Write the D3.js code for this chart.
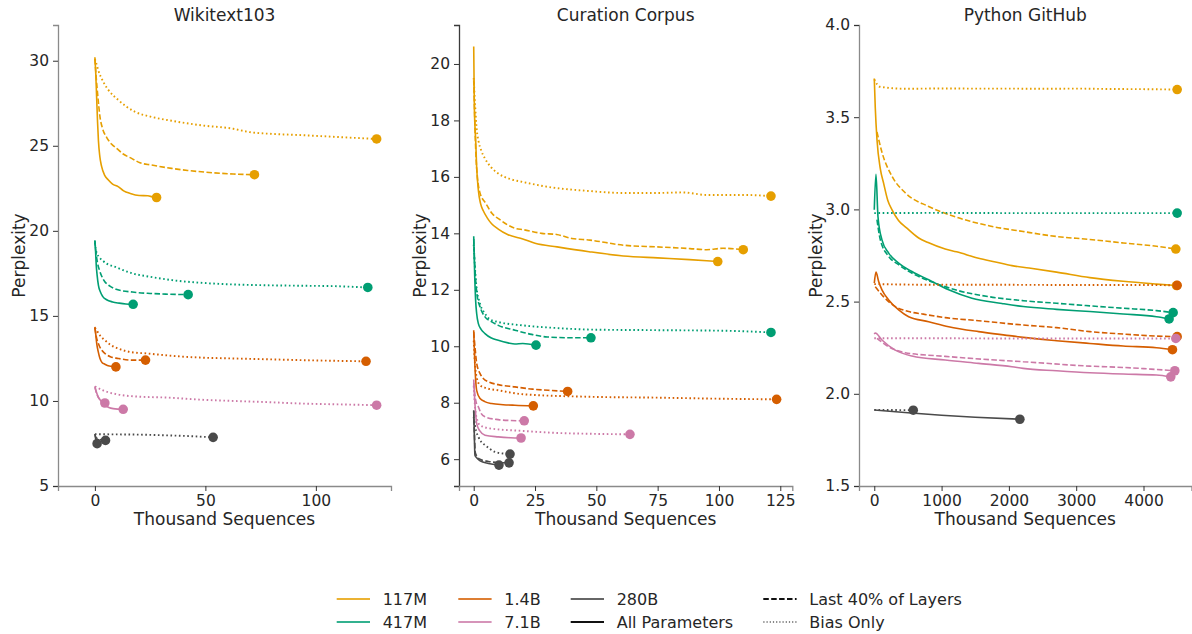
<!DOCTYPE html>
<html><head><meta charset="utf-8">
<script src="https://cdn.jsdelivr.net/npm/d3@7"></script>
<style>
html,body{margin:0;padding:0;background:#fff;}
svg{font-family:"DejaVu Sans",sans-serif;}
</style></head>
<body>
<svg id="chart" width="1192" height="634"></svg>
<script>
// ---------------- DATA ----------------
const models = ["117M","417M","1.4B","7.1B","280B"];
const methods = ["Last 40% of Layers","All Parameters","Bias Only"];
const titles = ["Wikitext103","Curation Corpus","Python GitHub"];
const wikiYTicks = [5,10,15,20,25,30];
const wikiXTicks = [0,50,100];
const curYTicks = [6,8,10,12,14,16,18,20];
const curXTicks = [0,25,50,75,100,125];
const pyYTicks = [1.5,2.0,2.5,3.0,3.5,4.0];
const pyXTicks = [0,1000,2000,3000,4000];

// Wikitext103 ([thousand sequences, perplexity])
const wiki117M_all   = [[0,30.2],[0.4,29.2],[0.8,27.8],[1.2,26.4],[1.6,25.3],[2.2,24.4],[3,23.8],[4.5,23.25],[6,23.0],[8,22.75],[10.5,22.6],[13,22.35],[16,22.2],[20,22.08],[24,22.06],[26,22.0],[27.9,21.96]];
const wiki117M_last  = [[0,30.1],[0.6,29.0],[1.2,28.1],[2.3,26.7],[3.5,26.0],[5.3,25.5],[7.5,25.1],[9.8,24.85],[13,24.5],[16.6,24.26],[20.4,24.0],[25.6,23.87],[34.7,23.67],[42,23.55],[49.8,23.45],[62.6,23.34],[72.2,23.3]];
const wiki117M_bias  = [[0,30.1],[0.5,29.9],[1.5,29.45],[3.8,28.76],[6,28.3],[10.5,27.7],[18.1,27.0],[25.6,26.7],[34.7,26.47],[48.3,26.2],[62.6,26.0],[70.1,25.8],[80,25.7],[92.8,25.63],[107.8,25.53],[127.5,25.4]];
const wiki417M_all   = [[0,19.45],[0.3,18.8],[0.6,18.0],[1,17.4],[1.6,16.8],[2.5,16.4],[3.5,16.15],[5.3,15.95],[8,15.82],[11,15.75],[14,15.7],[17.3,15.68]];
const wiki417M_last  = [[0,19.4],[0.5,18.7],[1.2,18.1],[2.3,17.6],[4,17.1],[6.8,16.75],[10,16.55],[17,16.4],[25,16.32],[32,16.28],[42.2,16.25]];
const wiki417M_bias  = [[0,19.3],[0.8,18.7],[4,18.2],[9.8,17.85],[17,17.5],[24.9,17.3],[35,17.1],[47.5,16.95],[62,16.85],[77.5,16.8],[95,16.77],[107.8,16.75],[123.5,16.67]];
const wiki1_4B_all   = [[0,14.35],[0.4,13.9],[0.8,13.4],[1.5,12.9],[2.3,12.5],[3.3,12.25],[4.5,12.16],[6.5,12.05],[9.5,12.0]];
const wiki1_4B_last  = [[0,14.3],[0.6,13.8],[1.5,13.4],[3,13.0],[4.5,12.8],[7,12.6],[10.5,12.5],[16.6,12.4],[22.9,12.4]];
const wiki1_4B_bias  = [[0,14.3],[0.8,14.15],[2.3,13.85],[4.5,13.57],[7,13.3],[10.5,13.08],[17.4,12.85],[22.6,12.8],[35,12.65],[47.5,12.55],[62,12.5],[77.7,12.45],[100,12.38],[122.7,12.33]];
const wiki7_1B_all   = [[0,10.86],[0.6,10.55],[1.5,10.24],[3,9.95],[4.5,9.75],[6.3,9.62],[8.3,9.55],[10.5,9.52],[12.8,9.51]];
const wiki7_1B_last  = [[0,10.8],[1,10.35],[2.5,10.05],[4.5,9.88]];
const wiki7_1B_bias  = [[0,10.85],[0.8,10.8],[4,10.6],[10.5,10.38],[20,10.25],[32.4,10.2],[47,10.08],[62.6,10.0],[80,9.92],[92.8,9.85],[110,9.8],[127.5,9.75]];
const wiki280B_all   = [[0,8.05],[0.3,7.8],[1,7.49]];
const wiki280B_last  = [[0,8.05],[0.5,7.85],[2,7.74],[4.8,7.68]];
const wiki280B_bias  = [[0,8.05],[5,8.04],[20,8.02],[32,7.98],[45,7.92],[53.5,7.86]];

// Curation Corpus
const cur117M_all  = [[0,20.62],[0.25,18.5],[0.5,17.8],[0.8,17.3],[1.2,16.35],[1.9,15.52],[2.8,15.05],[3.9,14.8],[5.5,14.55],[7.3,14.34],[10,14.15],[14,13.95],[20,13.8],[25,13.65],[34,13.52],[47,13.35],[61,13.2],[75,13.13],[88,13.07],[95,13.03],[99.5,13.0]];
const cur117M_last = [[0,19.42],[0.3,18.5],[0.6,17.5],[1,16.6],[1.5,16.0],[2.5,15.45],[5,15.05],[7.5,14.7],[10.4,14.5],[16.8,14.18],[20.2,14.13],[27.7,14.0],[33.8,13.96],[40,13.82],[47.4,13.76],[61,13.58],[74.6,13.52],[88.2,13.46],[95,13.42],[101.7,13.47],[109.9,13.42]];
const cur117M_bias = [[0,19.5],[0.6,18.5],[1.2,17.7],[2,17.25],[3,16.95],[4.6,16.65],[7,16.35],[10,16.12],[15,15.92],[20,15.82],[30,15.65],[47,15.5],[61,15.43],[75,15.43],[85,15.45],[95,15.36],[110,15.36],[121.2,15.32]];
const cur417M_all  = [[0,13.9],[0.4,12.5],[0.8,11.6],[1.2,11.16],[1.9,10.8],[3,10.6],[4.6,10.45],[7,10.3],[10,10.21],[14,10.12],[16.8,10.08],[20,10.1],[25.4,10.04]];
const cur417M_last = [[0,13.8],[0.6,12.6],[1.4,11.8],[2.6,11.39],[4.6,11.04],[7,10.88],[10,10.74],[16.8,10.57],[23.6,10.42],[30,10.33],[41,10.3],[47.8,10.3]];
const cur417M_bias = [[0,13.6],[1,12.2],[2.6,11.5],[4.6,11.16],[6.6,10.95],[10,10.86],[20,10.74],[35,10.64],[47.4,10.59],[74.6,10.57],[101.7,10.55],[121.2,10.49]];
const cur1_4B_all  = [[0,10.57],[0.4,9.5],[0.8,8.8],[1.2,8.44],[2.6,8.15],[4.5,8.04],[7.3,7.97],[12,7.93],[16.8,7.91],[24.3,7.89]];
const cur1_4B_last = [[0,10.5],[0.6,9.9],[1.2,9.4],[2.6,9.03],[4,8.85],[6,8.74],[10,8.64],[16.8,8.56],[24,8.48],[30.4,8.44],[38.3,8.4]];
const cur1_4B_bias = [[0,10.2],[0.5,9.4],[1.2,8.9],[2.6,8.62],[5,8.52],[10,8.44],[20.2,8.3],[47.4,8.21],[74.6,8.18],[101.7,8.14],[123.5,8.12]];
const cur7_1B_all  = [[0,8.82],[0.4,8.1],[0.8,7.6],[1.2,7.26],[2.5,7.0],[4.6,6.85],[10,6.79],[15,6.76],[19.3,6.75]];
const cur7_1B_last = [[0,8.7],[0.6,8.2],[1.2,7.95],[1.9,7.85],[3,7.62],[4.6,7.5],[10,7.4],[15,7.37],[20.6,7.36]];
const cur7_1B_bias = [[0,8.6],[0.6,7.8],[1.4,7.4],[2.6,7.2],[6.6,7.09],[20.2,7.0],[33.8,6.93],[47.4,6.9],[63.7,6.88]];
const cur280B_all  = [[0,7.73],[0.2,7.0],[0.5,6.14],[1.2,6.05],[2.6,5.94],[6,5.85],[10.3,5.79]];
const cur280B_last = [[0,7.7],[0.3,6.9],[0.6,6.25],[1.5,6.08],[3,5.98],[6,5.92],[10,5.88],[14.4,5.87]];
const cur280B_bias = [[0,7.5],[0.5,7.2],[1,7.0],[1.9,6.79],[3,6.62],[4.6,6.5],[8.6,6.26],[12,6.2],[14.8,6.18]];

// Python GitHub
const py117M_all  = [[0,3.71],[15,3.55],[40,3.38],[90,3.22],[140,3.14],[200,3.05],[260,3.0],[360,2.94],[480,2.9],[660,2.845],[800,2.82],[1054,2.785],[1223,2.77],[1550,2.735],[1800,2.715],[2045,2.695],[2300,2.682],[2708,2.66],[3203,2.63],[3697,2.61],[4193,2.595],[4490,2.587]];
const py117M_last = [[40,3.42],[114,3.31],[263,3.18],[460,3.09],[808,3.016],[1203,2.96],[1718,2.91],[2212,2.88],[2708,2.853],[3203,2.837],[3697,2.818],[4193,2.8],[4480,2.785]];
const py117M_bias = [[0,3.705],[85,3.665],[480,3.654],[1000,3.656],[1500,3.655],[2000,3.655],[2500,3.654],[3000,3.655],[3500,3.653],[4000,3.652],[4500,3.65]];
const py417M_all  = [[0,2.998],[25,3.19],[55,2.96],[114,2.835],[214,2.763],[362,2.709],[560,2.663],[808,2.618],[1105,2.564],[1451,2.518],[1896,2.49],[2212,2.473],[2708,2.458],[3203,2.446],[3697,2.433],[4193,2.418],[4380,2.406]];
const py417M_last = [[40,2.944],[90,2.835],[214,2.745],[362,2.7],[609,2.645],[906,2.6],[1203,2.564],[1698,2.527],[2212,2.505],[2708,2.491],[3203,2.477],[3697,2.464],[4193,2.451],[4440,2.44]];
const py417M_bias = [[0,2.98],[1000,2.981],[2000,2.98],[3000,2.98],[4000,2.98],[4500,2.98]];
const py1_4B_all  = [[0,2.6],[25,2.66],[65,2.609],[114,2.564],[214,2.509],[362,2.455],[511,2.418],[808,2.391],[1105,2.364],[1550,2.337],[2045,2.314],[2212,2.306],[2708,2.288],[3203,2.273],[3697,2.259],[4193,2.25],[4430,2.239]];
const py1_4B_last = [[15,2.58],[114,2.536],[312,2.473],[511,2.446],[728,2.432],[1054,2.413],[1500,2.398],[2212,2.373],[2708,2.359],[3203,2.337],[3697,2.324],[4193,2.313],[4500,2.31]];
const py1_4B_bias = [[0,2.595],[1000,2.591],[2000,2.591],[3000,2.59],[4000,2.59],[4500,2.588]];
const py7_1B_all  = [[0,2.324],[15,2.33],[114,2.292],[312,2.237],[560,2.205],[1054,2.183],[1550,2.165],[2045,2.147],[2212,2.138],[2708,2.125],[3203,2.114],[3697,2.107],[4193,2.102],[4405,2.092]];
const py7_1B_last = [[40,2.301],[214,2.255],[460,2.223],[1054,2.203],[1797,2.183],[2212,2.174],[3203,2.15],[3697,2.143],[4193,2.132],[4465,2.125]];
const py7_1B_bias = [[0,2.301],[1000,2.301],[2000,2.3],[3000,2.3],[4000,2.3],[4480,2.3]];
const py280B_all  = [[0,1.912],[500,1.897],[1000,1.884],[1500,1.873],[2163,1.862]];
const py280B_bias = [[0,1.913],[300,1.912],[579,1.911]];

// ---------------- STYLE ----------------
const colors = {"117M":"#E69F00","417M":"#009E73","1.4B":"#D55E00","7.1B":"#CC79A7","280B":"#4a4a4a"};
const dashes = {"Last 40% of Layers":"5.5,2.4","All Parameters":null,"Bias Only":"1.6,2.6"};
const widths = {"Last 40% of Layers":1.6,"All Parameters":1.6,"Bias Only":1.9};

const panelSeries = [
  [["117M","All Parameters",wiki117M_all],["117M","Last 40% of Layers",wiki117M_last],["117M","Bias Only",wiki117M_bias],
   ["417M","All Parameters",wiki417M_all],["417M","Last 40% of Layers",wiki417M_last],["417M","Bias Only",wiki417M_bias],
   ["1.4B","All Parameters",wiki1_4B_all],["1.4B","Last 40% of Layers",wiki1_4B_last],["1.4B","Bias Only",wiki1_4B_bias],
   ["7.1B","All Parameters",wiki7_1B_all],["7.1B","Last 40% of Layers",wiki7_1B_last],["7.1B","Bias Only",wiki7_1B_bias],
   ["280B","All Parameters",wiki280B_all],["280B","Last 40% of Layers",wiki280B_last],["280B","Bias Only",wiki280B_bias]],
  [["117M","All Parameters",cur117M_all],["117M","Last 40% of Layers",cur117M_last],["117M","Bias Only",cur117M_bias],
   ["417M","All Parameters",cur417M_all],["417M","Last 40% of Layers",cur417M_last],["417M","Bias Only",cur417M_bias],
   ["1.4B","All Parameters",cur1_4B_all],["1.4B","Last 40% of Layers",cur1_4B_last],["1.4B","Bias Only",cur1_4B_bias],
   ["7.1B","All Parameters",cur7_1B_all],["7.1B","Last 40% of Layers",cur7_1B_last],["7.1B","Bias Only",cur7_1B_bias],
   ["280B","All Parameters",cur280B_all],["280B","Last 40% of Layers",cur280B_last],["280B","Bias Only",cur280B_bias]],
  [["117M","All Parameters",py117M_all],["117M","Last 40% of Layers",py117M_last],["117M","Bias Only",py117M_bias],
   ["417M","All Parameters",py417M_all],["417M","Last 40% of Layers",py417M_last],["417M","Bias Only",py417M_bias],
   ["1.4B","All Parameters",py1_4B_all],["1.4B","Last 40% of Layers",py1_4B_last],["1.4B","Bias Only",py1_4B_bias],
   ["7.1B","All Parameters",py7_1B_all],["7.1B","Last 40% of Layers",py7_1B_last],["7.1B","Bias Only",py7_1B_bias],
   ["280B","All Parameters",py280B_all],["280B","Bias Only",py280B_bias]]
];

const layout = [
  {x0:58,  x1:391,   xDom:[-16.7,134], yDom:[5,32.1],    xTicks:wikiXTicks, yTicks:wikiYTicks, yFmt:d3.format("d"),   labX:19,  spine:"#8a8a8a"},
  {x0:459, x1:792.3, xDom:[-6,129.9],  yDom:[5.05,21.38],xTicks:curXTicks,  yTicks:curYTicks,  yFmt:d3.format("d"),   labX:420, spine:"#3a3a3a"},
  {x0:859, x1:1191.5,xDom:[-227,4713], yDom:[1.5,4.0],   xTicks:pyXTicks,   yTicks:pyYTicks,   yFmt:d3.format(".1f"), labX:816, spine:"#8a8a8a"}
];
const yTop = 25, yBot = 486;
const textCol = "#262626";

const svg = d3.select("#chart");

layout.forEach((L, i) => {
  const x = d3.scaleLinear().domain(L.xDom).range([L.x0, L.x1]);
  const y = d3.scaleLinear().domain(L.yDom).range([yBot, yTop]);
  const g = svg.append("g");

  const yAx = g.append("g").attr("transform", `translate(${L.x0},0)`)
    .call(d3.axisLeft(y).tickValues(L.yTicks).tickFormat(L.yFmt).tickSizeOuter(0).tickSize(5).tickPadding(4));
  const xAx = g.append("g").attr("transform", `translate(0,${yBot})`)
    .call(d3.axisBottom(x).tickValues(L.xTicks).tickFormat(d3.format("d")).tickSizeOuter(0).tickSize(5).tickPadding(4));
  [yAx, xAx].forEach(a => {
    a.select(".domain").attr("stroke", "#8a8a8a").attr("stroke-width", 1.3);
    a.selectAll(".tick line").attr("stroke", "#333").attr("stroke-width", 1);
    a.selectAll(".tick text").attr("fill", textCol).attr("font-size", 15.5).attr("font-family", "DejaVu Sans");
  });
  yAx.select(".domain").attr("stroke", L.spine);

  g.append("text").attr("x", (L.x0 + L.x1) / 2).attr("y", 21).attr("text-anchor", "middle")
    .attr("font-size", 17).attr("fill", textCol).text(titles[i]);
  g.append("text").attr("x", (L.x0 + L.x1) / 2).attr("y", 525).attr("text-anchor", "middle")
    .attr("font-size", 17).attr("fill", textCol).text("Thousand Sequences");
  g.append("text").attr("transform", `translate(${L.labX + 6},${(yTop + yBot) / 2}) rotate(-90)`)
    .attr("text-anchor", "middle").attr("font-size", 17).attr("fill", textCol).text("Perplexity");

  const line = d3.line().x(d => x(d[0])).y(d => y(d[1])).curve(d3.curveMonotoneX);
  const series = panelSeries[i];
  series.forEach(([m, meth, data]) => {
    g.append("path").datum(data).attr("d", line)
      .attr("fill", "none").attr("stroke", colors[m]).attr("stroke-width", widths[meth])
      .attr("stroke-dasharray", dashes[meth]);
  });
  series.forEach(([m, meth, data]) => {
    const last = data[data.length - 1];
    g.append("circle").attr("cx", x(last[0])).attr("cy", y(last[1])).attr("r", 4.8)
      .attr("fill", colors[m]);
  });
});

// ---------------- LEGEND ----------------
const leg = svg.append("g");
const legModelCols = [[336.7, 599, "117M"], [336.7, 622, "417M"], [458.3, 599, "1.4B"], [458.3, 622, "7.1B"], [570.7, 599, "280B"]];
legModelCols.forEach(([lx, ly, m]) => {
  leg.append("line").attr("x1", lx).attr("x2", lx + 33.3).attr("y1", ly).attr("y2", ly)
    .attr("stroke", m === "280B" ? "#666" : colors[m]).attr("stroke-width", 2).attr("stroke-opacity", m === "280B" ? 1 : 0.8);
  leg.append("text").attr("x", lx + 46).attr("y", ly).attr("dy", "0.36em").attr("font-size", 16)
    .attr("fill", textCol).text(m);
});
const legMethods = [[570.7, 622, "All Parameters"], [763.3, 599, "Last 40% of Layers"], [763.3, 622, "Bias Only"]];
legMethods.forEach(([lx, ly, meth]) => {
  leg.append("line").attr("x1", lx).attr("x2", lx + 33.3).attr("y1", ly).attr("y2", ly)
    .attr("stroke", "#111").attr("stroke-width", meth === "Bias Only" ? 1.2 : 2)
    .attr("stroke-dasharray", meth === "Last 40% of Layers" ? "5.5,2.4" : (meth === "Bias Only" ? "1.2,2" : null));
  leg.append("text").attr("x", lx + 46).attr("y", ly).attr("dy", "0.36em").attr("font-size", 16)
    .attr("fill", textCol).text(meth);
});
</script>
</body></html>
